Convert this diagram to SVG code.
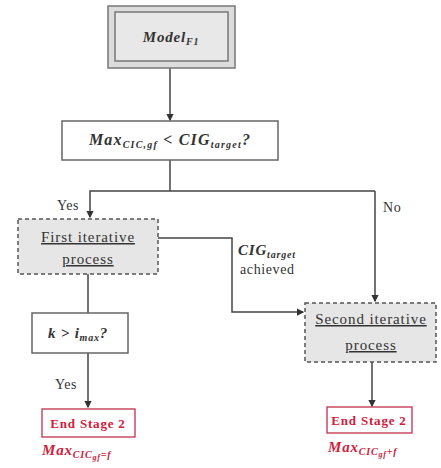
<svg xmlns="http://www.w3.org/2000/svg" width="441" height="468" viewBox="0 0 441 468">
<defs>
<style>
.ln{fill:none;stroke:#444;stroke-width:1.5}
.box{fill:#fff;stroke:#666;stroke-width:1.5}
.dash{fill:#e6e6e6;stroke:#555;stroke-width:1.5;stroke-dasharray:4,3}
.end{fill:#fff;stroke:#c0304a;stroke-width:1.3}
.t{font-family:"Liberation Serif",serif;font-size:14px;fill:#333;letter-spacing:0.6px}
.p{font-family:"Liberation Serif",serif;font-size:15px;fill:#333;letter-spacing:0.9px}
.m{font-family:"Liberation Serif",serif;font-size:15px;font-style:italic;font-weight:bold;fill:#333;letter-spacing:0.8px}
.r{font-family:"Liberation Serif",serif;font-size:13px;font-weight:bold;fill:#d0203c;letter-spacing:0.8px}
.rm{font-family:"Liberation Serif",serif;font-size:15px;font-style:italic;font-weight:bold;fill:#d0203c;letter-spacing:0.8px}
.sub{font-size:10px}
</style>
<marker id="a" viewBox="0 0 6 6" refX="5" refY="3" markerWidth="5" markerHeight="5" orient="auto"><path d="M0,0L6,3L0,6z" fill="#333"/></marker>
</defs>
<g id="connectors">
<path class="ln" d="M170,68V120" marker-end="url(#a)"/>
<path class="ln" d="M170,160V191"/>
<path class="ln" d="M375,191H90V217" marker-end="url(#a)"/>
<path class="ln" d="M375,191V301" marker-end="url(#a)"/>
<path class="ln" d="M158,238H232V312H303" marker-end="url(#a)"/>
<path class="ln" d="M88,274V313"/>
<path class="ln" d="M88,353V407" marker-end="url(#a)"/>
<path class="ln" d="M372,362V406" marker-end="url(#a)"/>
<text class="t" x="57" y="210">Yes</text>
<text class="t" x="383" y="212">No</text>
<text class="m" x="238" y="255">CIG<tspan class="sub" dy="3">target</tspan></text>
<text class="t" x="240" y="274">achieved</text>
<text class="t" x="55" y="389">Yes</text>
</g>
<g id="model">
<rect x="108" y="6" width="127" height="62" fill="#dcdcdc" stroke="#777" stroke-width="1.5"/>
<rect x="115" y="12" width="113" height="49" fill="#e8e8e8" stroke="#777" stroke-width="1.5"/>
<text class="m" x="171" y="42" text-anchor="middle">Model<tspan class="sub" dy="3">F1</tspan></text>
</g>
<g id="decision1">
<rect class="box" x="62" y="121" width="216" height="39"/>
<text class="m" x="170" y="145" text-anchor="middle" style="font-size:16px;letter-spacing:1.2px">Max<tspan class="sub" dy="3">CIC,gf</tspan><tspan dy="-3"> &lt; CIG</tspan><tspan class="sub" dy="3">target</tspan><tspan dy="-3">?</tspan></text>
</g>
<g id="first">
<rect class="dash" x="18" y="219" width="140" height="55"/>
<text class="p" x="88" y="242" text-anchor="middle" text-decoration="underline">First iterative</text>
<text class="p" x="88" y="264" text-anchor="middle" text-decoration="underline">process</text>
</g>
<g id="second">
<rect class="dash" x="305" y="303" width="131" height="59"/>
<text class="p" x="371" y="324" text-anchor="middle" text-decoration="underline">Second iterative</text>
<text class="p" x="371" y="350" text-anchor="middle" text-decoration="underline">process</text>
</g>
<g id="decision2">
<rect class="box" x="32" y="313" width="96" height="40"/>
<text class="m" x="78" y="338" text-anchor="middle">k &gt; i<tspan class="sub" dy="3">max</tspan><tspan dy="-3">?</tspan></text>
</g>
<g id="end1">
<rect class="end" x="42" y="409" width="93" height="28"/>
<text class="r" x="88" y="428" text-anchor="middle">End Stage 2</text>
<text class="rm" x="42" y="455">Max<tspan class="sub" dy="3">CIC<tspan dy="2" font-size="8">gf</tspan><tspan dy="-2">=f</tspan></tspan></text>
</g>
<g id="end2">
<rect class="end" x="327" y="407" width="85" height="26"/>
<text class="r" x="369" y="425" text-anchor="middle">End Stage 2</text>
<text class="rm" x="328" y="452">Max<tspan class="sub" dy="3">CIC<tspan dy="2" font-size="8">gf</tspan><tspan dy="-2">+f</tspan></tspan></text>
</g>
</svg>
